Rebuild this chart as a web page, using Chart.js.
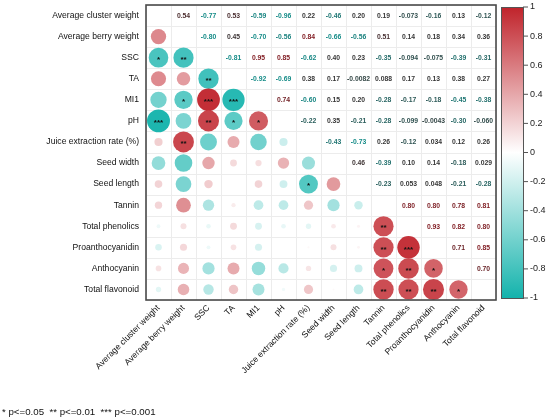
<!DOCTYPE html>
<html>
<head>
<meta charset="utf-8">
<script src="https://cdn.jsdelivr.net/npm/chart.js@4/dist/chart.umd.min.js"></script>
<style>
  html, body { margin: 0; padding: 0; background: #fff; }
  #wrap { width: 550px; height: 420px; position: relative; }
</style>
</head>
<body>
<div id="wrap"><canvas id="c"></canvas></div>
<script>
// ---------- DATA ----------
const variables = [
  "Average cluster weight", "Average berry weight", "SSC", "TA", "MI1", "pH",
  "Juice extraction rate (%)", "Seed width", "Seed length", "Tannin",
  "Total phenolics", "Proanthocyanidin", "Anthocyanin", "Total flavonoid"
];

// Upper-triangle correlations: each row lists r with the variables to its right
const rClusterWeight = [0.54, -0.77, 0.53, -0.59, -0.96, 0.22, -0.46, 0.20, 0.19, -0.073, -0.16, 0.13, -0.12];
const rBerryWeight   = [-0.80, 0.45, -0.70, -0.56, 0.84, -0.66, -0.56, 0.51, 0.14, 0.18, 0.34, 0.36];
const rSSC           = [-0.81, 0.95, 0.85, -0.62, 0.40, 0.23, -0.35, -0.094, -0.075, -0.39, -0.31];
const rTA            = [-0.92, -0.69, 0.38, 0.17, -0.0082, 0.088, 0.17, 0.13, 0.38, 0.27];
const rMI1           = [0.74, -0.60, 0.15, 0.20, -0.28, -0.17, -0.18, -0.45, -0.38];
const rPH            = [-0.22, 0.35, -0.21, -0.28, -0.099, -0.0043, -0.30, -0.060];
const rJuice         = [-0.43, -0.73, 0.26, -0.12, 0.034, 0.12, 0.26];
const rSeedWidth     = [0.46, -0.39, 0.10, 0.14, -0.18, 0.029];
const rSeedLength    = [-0.23, 0.053, 0.048, -0.21, -0.28];
const rTannin        = [0.80, 0.80, 0.78, 0.81];
const rPhenolics     = [0.93, 0.82, 0.80];
const rProantho      = [0.71, 0.85];
const rAnthocyanin   = [0.70];

// Significance marks in the lower triangle: [row, column, stars]
const significance = [
  [2, 0, "*"], [2, 1, "**"],
  [3, 2, "**"],
  [4, 1, "*"], [4, 2, "***"], [4, 3, "***"],
  [5, 0, "***"], [5, 2, "**"], [5, 3, "*"], [5, 4, "*"],
  [6, 1, "**"],
  [8, 6, "*"],
  [10, 9, "**"],
  [11, 9, "**"], [11, 10, "***"],
  [12, 9, "*"], [12, 10, "**"], [12, 11, "*"],
  [13, 9, "**"], [13, 10, "**"], [13, 11, "**"], [13, 12, "*"]
];

const colorbarTicks = [1, 0.8, 0.6, 0.4, 0.2, 0, -0.2, -0.4, -0.6, -0.8, -1];
const footnote = "* p<=0.05  ** p<=0.01  *** p<=0.001";

// ---------- BUILD ----------
const upperRows = [rClusterWeight, rBerryWeight, rSSC, rTA, rMI1, rPH, rJuice,
  rSeedWidth, rSeedLength, rTannin, rPhenolics, rProantho, rAnthocyanin];
const n = variables.length;
function corr(i, j) {
  if (i === j) return 1;
  const a = Math.min(i, j), b = Math.max(i, j);
  return upperRows[a][b - a - 1];
}
function fmt(v) {
  return Math.abs(v) >= 0.1 ? v.toFixed(2) : v.toPrecision(2);
}

const RED = [192, 35, 43], TEAL = [20, 179, 172], WHITE = [255, 255, 255];
function mix(c1, c2, t) {
  return 'rgb(' + c1.map((v, k) => Math.round(v + (c2[k] - v) * t)).join(',') + ')';
}
function fillColor(v) {
  return v >= 0 ? mix(WHITE, RED, v) : mix(WHITE, TEAL, -v);
}
function textColor(v) {
  if (v >= 0) {
    const t = Math.max(0, Math.min(1, (v - 0.42) / 0.4));
    return mix([55, 55, 55], [130, 30, 36], t);
  }
  const t = Math.min(1, 0.15 + Math.abs(v) * 1.3);
  return mix([60, 60, 60], [22, 140, 136], t);
}

const circlePoints = [];
for (let i = 0; i < n; i++) {
  for (let j = 0; j < i; j++) {
    circlePoints.push({ x: j, y: i, v: corr(i, j) });
  }
}

const FONT = '"Liberation Sans", Arial, Helvetica, sans-serif';

const matrixPlugin = {
  id: 'matrix',
  beforeDatasetsDraw(chart) {
    const { ctx, chartArea: a, scales: { x, y } } = chart;
    ctx.save();
    ctx.strokeStyle = '#ececec';
    ctx.lineWidth = 1;
    for (let k = 0; k <= n; k++) {
      const px = Math.round(x.getPixelForValue(k - 0.5)) + 0.5;
      const py = Math.round(y.getPixelForValue(k - 0.5)) + 0.5;
      ctx.beginPath(); ctx.moveTo(px, a.top); ctx.lineTo(px, a.bottom); ctx.stroke();
      ctx.beginPath(); ctx.moveTo(a.left, py); ctx.lineTo(a.right, py); ctx.stroke();
    }
    ctx.restore();
  },
  afterDatasetsDraw(chart) {
    const { ctx, chartArea: a, scales: { x, y } } = chart;
    ctx.save();
    // upper triangle numbers
    ctx.font = 'bold 6.8px ' + FONT;
    ctx.textAlign = 'center';
    ctx.textBaseline = 'middle';
    for (let i = 0; i < n; i++) {
      for (let j = i + 1; j < n; j++) {
        const v = corr(i, j);
        ctx.fillStyle = textColor(v);
        ctx.fillText(fmt(v), x.getPixelForValue(j), y.getPixelForValue(i) + 0.5);
      }
    }
    // significance stars
    ctx.fillStyle = '#111';
    ctx.font = 'bold 8px ' + FONT;
    significance.forEach(([r, c, s]) => {
      ctx.fillText(s, x.getPixelForValue(c), y.getPixelForValue(r) + 2);
    });
    // box border
    ctx.strokeStyle = '#4a4a4a';
    ctx.lineWidth = 1.6;
    ctx.strokeRect(a.left, a.top, a.right - a.left, a.bottom - a.top);

    // colorbar
    const bx = a.right + 5, bw = 22, by = a.top + 2, bh = (a.bottom - 2) - by;
    const g = ctx.createLinearGradient(0, by, 0, by + bh);
    g.addColorStop(0, fillColor(1));
    g.addColorStop(0.5, fillColor(0));
    g.addColorStop(1, fillColor(-1));
    ctx.fillStyle = g;
    ctx.fillRect(bx, by, bw, bh);
    ctx.strokeStyle = '#555';
    ctx.lineWidth = 1;
    ctx.strokeRect(bx + 0.5, by + 0.5, bw, bh);
    ctx.font = '9px ' + FONT;
    ctx.textAlign = 'left';
    ctx.textBaseline = 'middle';
    ctx.fillStyle = '#222';
    colorbarTicks.forEach(t => {
      const ty = by + (1 - t) / 2 * bh;
      ctx.beginPath(); ctx.moveTo(bx + bw, ty); ctx.lineTo(bx + bw + 5, ty); ctx.stroke();
      ctx.fillText(String(t), bx + bw + 7, ty);
    });

    // footnote
    ctx.font = '9.7px ' + FONT;
    ctx.fillStyle = '#111';
    ctx.textAlign = 'left';
    ctx.fillText(footnote, 2, 412);
    ctx.restore();
  }
};

const axisTicks = s => { s.ticks = variables.map((_, i) => ({ value: i })); };
const radiusFn = ctx => {
  if (!ctx.raw) return 0;
  const a = ctx.chart.chartArea;
  const cellH = a ? (a.bottom - a.top) / n : 21;
  return Math.pow(Math.abs(ctx.raw.v), 0.7) * cellH * 0.56;
};

new Chart(document.getElementById('c'), {
  type: 'scatter',
  data: {
    datasets: [{
      data: circlePoints,
      backgroundColor: ctx => ctx.raw ? fillColor(ctx.raw.v) : '#fff',
      borderWidth: 0,
      pointRadius: radiusFn,
      pointHoverRadius: radiusFn
    }]
  },
  options: {
    responsive: true,
    maintainAspectRatio: false,
    animation: false,
    events: [],
    layout: { autoPadding: false, padding: { top: 5, right: 54, left: 0, bottom: 0 } },
    plugins: { legend: { display: false }, tooltip: { enabled: false } },
    scales: {
      x: {
        type: 'linear', min: -0.5, max: n - 0.5,
        afterBuildTicks: axisTicks,
        afterFit: s => { s.height = 120; s.paddingLeft = 0; s.paddingRight = 0; },
        grid: { display: false, drawTicks: false, tickLength: 0 },
        border: { display: false },
        ticks: {
          autoSkip: false, minRotation: 45, maxRotation: 45, padding: 3,
          color: '#111', font: { family: FONT, size: 8.6 },
          callback: v => variables[v]
        }
      },
      y: {
        type: 'linear', min: -0.5, max: n - 0.5, reverse: true,
        afterBuildTicks: axisTicks,
        afterFit: s => { s.width = 146; s.paddingTop = 0; s.paddingBottom = 0; },
        grid: { display: false, drawTicks: false, tickLength: 0 },
        border: { display: false },
        ticks: {
          autoSkip: false, padding: 7,
          color: '#111', font: { family: FONT, size: 8.6 },
          callback: v => variables[v]
        }
      }
    }
  },
  plugins: [matrixPlugin]
});
</script>
</body>
</html>
